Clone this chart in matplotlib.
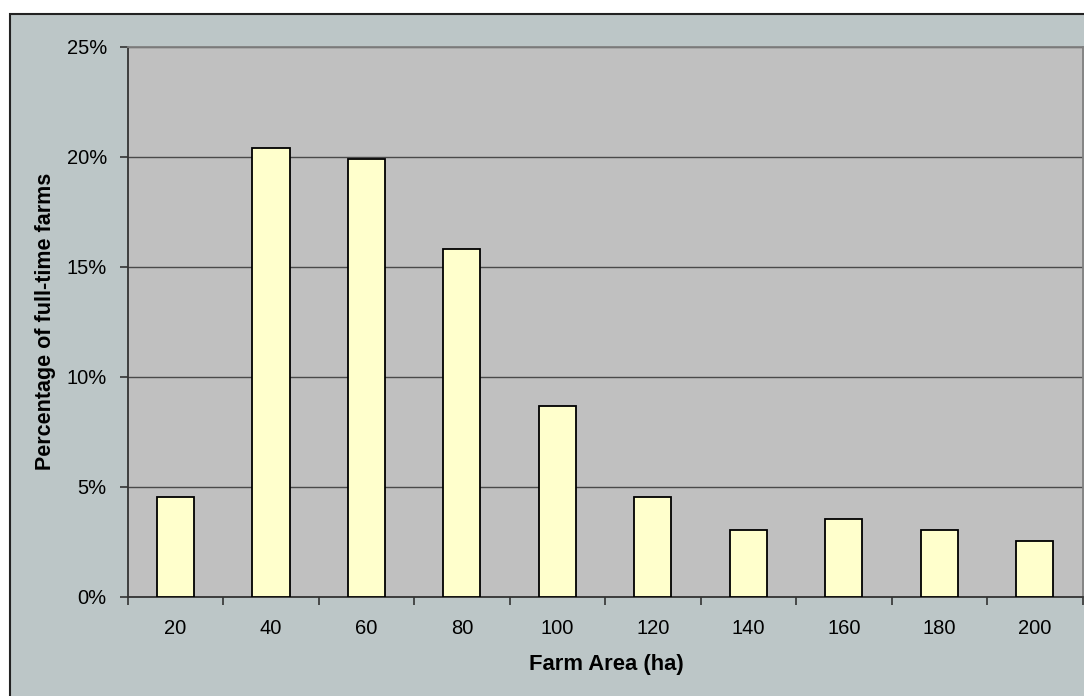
import matplotlib.pyplot as plt
from matplotlib.patches import Rectangle
from matplotlib.ticker import FixedLocator, FuncFormatter

# farm area classes (ha) and share of full-time farms (%)
areas = ["20", "40", "60", "80", "100", "120", "140", "160", "180", "200"]
percent = [4.55, 20.4, 19.9, 15.8, 8.65, 4.55, 3.03, 3.55, 3.03, 2.52]
y_ticks = [0, 5, 10, 15, 20, 25]

plt.rcParams['font.family'] = ['Liberation Sans', 'DejaVu Sans']

fig = plt.figure(figsize=(10.84, 6.96), dpi=100)
fig.patch.set_facecolor('white')

# chart frame (light blue-grey, cut off at right and bottom)
W, H = 1084, 696
frame = Rectangle((10 / W, -0.05), 1.1, 1 - 14 / H + 0.05, transform=fig.transFigure,
                  facecolor='#bcc6c7', edgecolor='#222222', linewidth=1.5, zorder=-10)
fig.add_artist(frame)

ax = fig.add_axes([127.7 / W, 1 - 596.7 / H, (1082.5 - 127.7) / W, (596.7 - 46.7) / H])
ax.set_zorder(1)
ax.set_facecolor('#c0c0c0')

x = list(range(len(areas)))
ax.bar(x, percent, width=0.39, color='#ffffcc', edgecolor='black', linewidth=1.3, zorder=3)

ax.set_xlim(-0.5, len(areas) - 0.5)
ax.set_ylim(0, 25)
ax.set_yticks(y_ticks)
ax.yaxis.set_major_formatter(FuncFormatter(lambda v, p: f"{v:.0f}%"))
ax.grid(axis='y', color='#4a4a4a', linewidth=1.0, zorder=1)

# x labels centred on bars, ticks between categories
ax.set_xticks(x)
ax.set_xticklabels(areas)
ax.tick_params(axis='x', which='major', length=0, pad=16, labelsize=14.5)
ax.xaxis.set_minor_locator(FixedLocator([i - 0.5 for i in range(len(areas) + 1)]))
ax.tick_params(axis='x', which='minor', length=6, width=1.2, color='#333333', direction='out')
ax.tick_params(axis='y', length=6, width=1.2, color='#333333', labelsize=14.5, pad=9)

for side in ['left', 'bottom']:
    ax.spines[side].set_color('#333333')
    ax.spines[side].set_linewidth(1.3)
for side in ['top', 'right']:
    ax.spines[side].set_color('#808080')
    ax.spines[side].set_linewidth(1.3)

ax.set_xlabel("Farm Area (ha)", fontsize=15.8, fontweight='bold', va='center')
ax.xaxis.set_label_coords(0.501, -0.124)
ax.set_ylabel("Percentage of full-time farms", fontsize=15.5, fontweight='bold', va='center')
ax.yaxis.set_label_coords(-0.0866, 0.5)

fig.savefig("out.png", dpi=100)
